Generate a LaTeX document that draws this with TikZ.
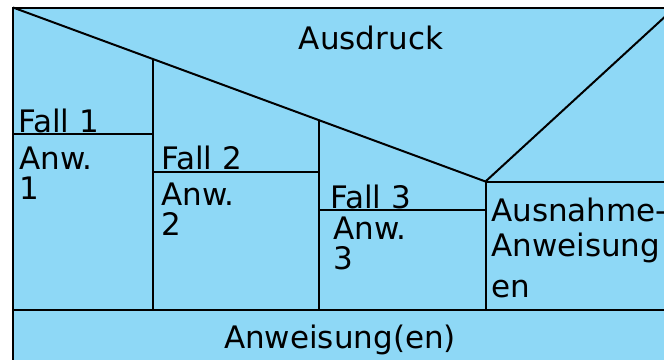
\documentclass[tikz,border=0pt]{standalone}
\usepackage{fontspec}
\setmainfont{DejaVu Sans}
\definecolor{boxblue}{RGB}{142,216,246}
\begin{document}
\begin{tikzpicture}[x=1bp,y=-1bp,
  lbl/.style={inner sep=0pt, font=\fontsize{31bp}{31bp}\selectfont, anchor=base west},
  ctr/.style={lbl, anchor=base},
  ln/.style={draw=black, line width=2bp}]
\useasboundingbox (0,0) rectangle (664,359);
\clip (0,0) rectangle (664,359);
\fill[white] (0,0) rectangle (664,359);
% frame
\coordinate (tl) at (13,7.5);
\coordinate (tr) at (675,7.5);
\coordinate (br) at (675,366);
\coordinate (v) at (485.5,181.5);
\coordinate (vr) at (675,181.5);
\coordinate (c1t) at (153,59);
\coordinate (c2t) at (319,120.2);
\coordinate (c1b) at (153,309.5);
\coordinate (c2b) at (319,309.5);
\coordinate (c3b) at (485.5,309.5);
\coordinate (bl) at (13,309.5);
\coordinate (brl) at (675,309.5);
\coordinate (f1a) at (13,133.5);
\coordinate (f1b) at (153,133.5);
\coordinate (f2a) at (153,171.5);
\coordinate (f2b) at (319,171.5);
\coordinate (f3a) at (319,209.5);
\coordinate (f3b) at (485.5,209.5);
\fill[boxblue] (tl) rectangle (br);
\draw[ln] (tl) rectangle (br);
\draw[ln] (tl) -- (v) -- (tr);
\draw[ln] (v) -- (vr);
\draw[ln] (c1t) -- (c1b);
\draw[ln] (c2t) -- (c2b);
\draw[ln] (v) -- (c3b);
\draw[ln] (bl) -- (brl);
\draw[ln] (f1a) -- (f1b);
\draw[ln] (f2a) -- (f2b);
\draw[ln] (f3a) -- (f3b);
% texts
\node[ctr] (ausdruck) at (371,49) {Ausdruck};
\node[lbl] (fall1) at (18,132) {Fall 1};
\node[lbl] (anw1a) at (19,169) {Anw.};
\node[lbl] (anw1b) at (19,199) {1};
\node[lbl] (fall2) at (161,169.5) {Fall 2};
\node[lbl] (anw2a) at (161,205) {Anw.};
\node[lbl] (anw2b) at (161,235) {2};
\node[lbl] (fall3) at (330,208) {Fall 3};
\node[lbl] (anw3a) at (333,239) {Anw.};
\node[lbl] (anw3b) at (333,269) {3};
\node[lbl] (ausn1) at (491,221) {Ausnahme-};
\node[lbl] (ausn2) at (491,256) {Anweisung};
\node[lbl] (ausn3) at (491,297) {en};
\node[ctr] (anwen) at (340,348) {Anweisung(en)};
\end{tikzpicture}
\end{document}
